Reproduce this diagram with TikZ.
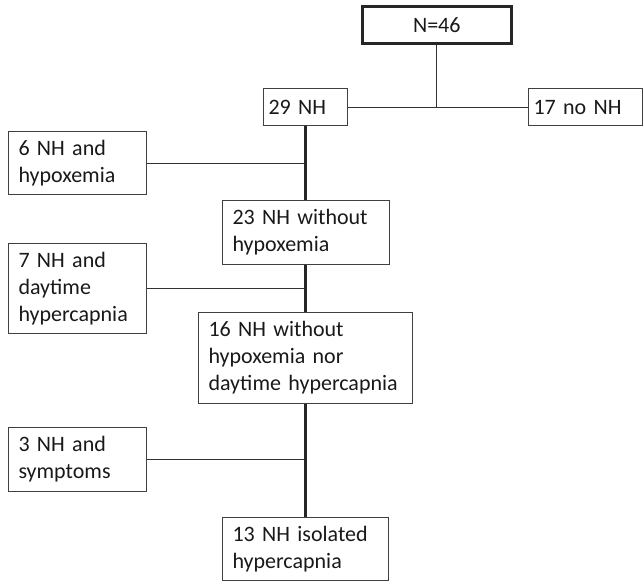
\documentclass[tikz,border=0pt]{standalone}
\usepackage{fontspec}
\setmainfont{Carlito}
\usepackage{tikz}
\tikzstyle{fTotal} = [rectangle, anchor=north west, line width=2.6pt, draw=black!85, text=black!90, inner sep=0pt, font=\fontsize{22}{27}\selectfont]
\tikzstyle{fGroup} = [rectangle, anchor=north west, line width=1pt, draw=black!75, text=black!90, align=left, inner ysep=0pt, font=\fontsize{22}{27}\selectfont]
\tikzstyle{fThin} = [line width=1pt, draw=black!80]
\tikzstyle{fThick} = [line width=3pt, draw=black!85]

\begin{document}
\begin{tikzpicture}[x=1pt, y=-1pt]
    \useasboundingbox (0,0) rectangle (643,582);
    \node (total) [fTotal, minimum width=149pt, minimum height=37pt] at (361,5) {N=46};
    \node (withNH) [fGroup, inner xsep=5pt, text width=74pt, minimum height=37pt] at (263,88) {29 NH};
    \node (noNH) [fGroup, inner xsep=5pt, text width=104pt, minimum height=37pt] at (528,88) {17 no NH};
    \node (hypox) [fGroup, inner xsep=10pt, text width=118pt, minimum height=63pt] at (8,131) {6 NH and\\hypoxemia};
    \node (noHypox) [fGroup, inner xsep=10pt, text width=147pt, minimum height=64pt] at (222,200) {23 NH without\\hypoxemia};
    \node (dayHyper) [fGroup, inner xsep=10pt, text width=118pt, minimum height=90pt] at (8,243) {7 NH and\\daytime\\hypercapnia};
    \node (noDayHyper) [fGroup, inner xsep=10pt, text width=194pt, minimum height=91pt] at (198,312) {16 NH without\\hypoxemia nor\\daytime hypercapnia};
    \node (symptoms) [fGroup, inner xsep=10pt, text width=118pt, minimum height=64pt] at (8,427) {3 NH and\\symptoms};
    \node (isolated) [fGroup, inner xsep=10pt, text width=146pt, minimum height=63pt] at (222,517) {13 NH isolated\\hypercapnia};

    \draw [fThin] (withNH.east) -- (noNH.west);
    \draw [fThin] (total.south) -- (total.south |- withNH.east);
    \draw [fThin] (hypox.east) -- (hypox.east -| withNH.south);
    \draw [fThin] (dayHyper.east) -- (dayHyper.east -| withNH.south);
    \draw [fThin] (symptoms.east) -- (symptoms.east -| withNH.south);
    \draw [fThick] (withNH.south) -- (withNH.south |- noHypox.north);
    \draw [fThick] (withNH.south |- noHypox.south) -- (withNH.south |- noDayHyper.north);
    \draw [fThick] (withNH.south |- noDayHyper.south) -- (withNH.south |- isolated.north);
\end{tikzpicture}
\end{document}
